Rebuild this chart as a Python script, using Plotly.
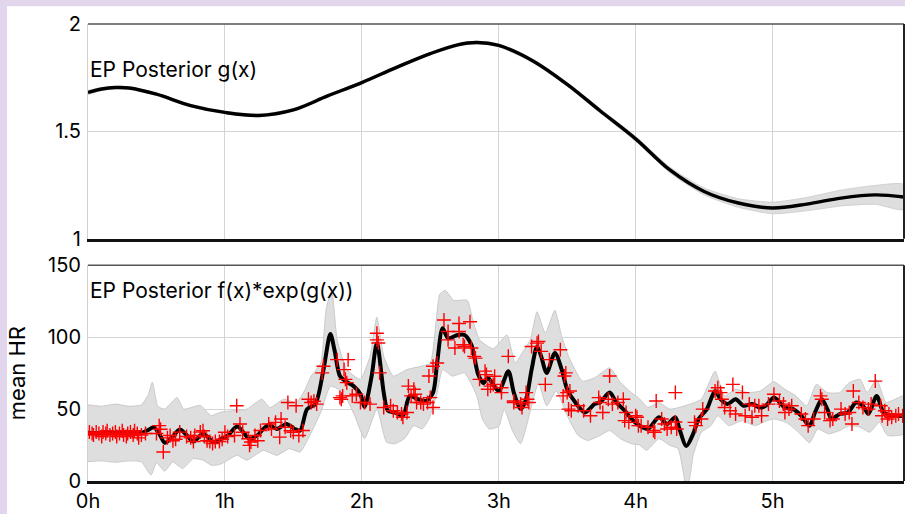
import plotly.graph_objects as go
from plotly.subplots import make_subplots

# ---- g(x): posterior mean and band (hours, value) ----
g_hours = [0.0, 0.1, 0.2, 0.3, 0.5, 0.75, 1.0, 1.25, 1.5, 1.75, 2.0, 2.25, 2.5, 2.7,
           2.84, 3.0, 3.25, 3.5, 3.74, 4.0, 4.25, 4.5, 4.75, 5.0, 5.25, 5.5, 5.75, 5.96]
g_mean = [1.681, 1.697, 1.704, 1.702, 1.673, 1.62, 1.588, 1.574, 1.60, 1.665, 1.727,
          1.797, 1.862, 1.903, 1.914, 1.90, 1.828, 1.719, 1.596, 1.465, 1.32, 1.22,
          1.166, 1.143, 1.161, 1.189, 1.204, 1.194]
g_upper = [1.691, 1.704, 1.710, 1.708, 1.679, 1.626, 1.594, 1.580, 1.606, 1.671, 1.733,
           1.803, 1.868, 1.909, 1.920, 1.907, 1.836, 1.728, 1.606, 1.476, 1.333, 1.236,
           1.186, 1.170, 1.192, 1.226, 1.248, 1.252]
g_lower = [1.671, 1.690, 1.698, 1.696, 1.667, 1.614, 1.582, 1.568, 1.594, 1.659, 1.721,
           1.791, 1.856, 1.897, 1.908, 1.893, 1.820, 1.710, 1.586, 1.454, 1.307, 1.204,
           1.146, 1.116, 1.130, 1.152, 1.160, 1.136]

# ---- f(x)*exp(g(x)): posterior mean ----
f_hours = [0.00, 0.10, 0.20, 0.30, 0.39, 0.44, 0.48, 0.52, 0.56, 0.61, 0.67, 0.72, 0.77,
           0.84, 0.92, 0.97, 1.02, 1.09, 1.18, 1.24, 1.28, 1.32, 1.38, 1.45, 1.51, 1.55,
           1.60, 1.66, 1.72, 1.77, 1.80, 1.84, 1.88, 1.94, 1.99, 2.02, 2.07, 2.11, 2.16,
           2.19, 2.24, 2.30, 2.35, 2.41, 2.47, 2.52, 2.55, 2.59, 2.63, 2.70, 2.75, 2.80,
           2.85, 2.89, 2.92, 3.00, 3.07, 3.11, 3.16, 3.20, 3.24, 3.28, 3.31, 3.35, 3.41,
           3.46, 3.50, 3.56, 3.63, 3.70, 3.74, 3.81, 3.86, 3.92, 3.97, 4.03, 4.09, 4.17,
           4.23, 4.29, 4.32, 4.37, 4.42, 4.46, 4.52, 4.58, 4.62, 4.67, 4.73, 4.79, 4.85,
           4.91, 4.95, 5.01, 5.09, 5.15, 5.21, 5.27, 5.31, 5.36, 5.40, 5.43, 5.49, 5.55,
           5.61, 5.66, 5.70, 5.76, 5.81, 5.86, 5.96]
f_mean = [33.5, 33.3, 33.5, 33.2, 33.5, 35.5, 37.4, 33.0, 26.6, 30.0, 35.8, 32.0, 27.5,
          32.8, 27.0, 29.0, 31.5, 37.9, 29.4, 32.0, 36.2, 39.0, 36.2, 39.7, 36.2, 35.1,
          50.0, 53.5, 77.5, 102.3, 91.3, 73.0, 69.5, 66.0, 60.3, 51.5, 72.0, 95.9, 61.5,
          48.9, 47.7, 45.4, 59.2, 56.9, 55.8, 61.5, 82.1, 106.2, 99.3, 101.6, 101.6, 94.8,
          74.1, 68.0, 71.8, 62.6, 76.4, 61.5, 50.0, 56.9, 77.5, 93.6, 86.7, 75.2, 89.0,
          77.5, 63.8, 54.6, 47.7, 53.5, 54.6, 61.5, 54.6, 48.9, 43.1, 38.5, 36.2, 44.3,
          39.7, 44.3, 36.2, 24.3, 32.8, 43.1, 50.0, 62.6, 56.9, 53.5, 56.9, 52.3, 53.5,
          51.1, 52.3, 58.0, 51.1, 50.0, 45.4, 38.5, 47.7, 56.9, 50.0, 43.1, 46.6, 47.7,
          54.6, 52.3, 46.6, 59.2, 47.7, 45.4, 45.4]

# ---- f(x)*exp(g(x)): band edges ----
up_hours = [0.00, 0.10, 0.20, 0.30, 0.39, 0.44, 0.47, 0.51, 0.56, 0.65, 0.70, 0.82, 0.90,
            0.96, 1.06, 1.16, 1.27, 1.33, 1.43, 1.52, 1.58, 1.63, 1.70, 1.74, 1.78, 1.82,
            1.89, 1.99, 2.06, 2.11, 2.16, 2.23, 2.33, 2.43, 2.50, 2.57, 2.61, 2.67, 2.77,
            2.81, 2.86, 2.96, 3.06, 3.12, 3.17, 3.23, 3.28, 3.34, 3.41, 3.46, 3.51, 3.61,
            3.70, 3.81, 3.89, 3.97, 4.03, 4.09, 4.17, 4.25, 4.36, 4.48, 4.58, 4.65, 4.73,
            4.82, 4.91, 5.01, 5.09, 5.17, 5.25, 5.32, 5.40, 5.49, 5.56, 5.64, 5.69, 5.76,
            5.83, 5.96]
up_vals = [53.0, 52.0, 53.5, 52.0, 53.0, 60.0, 68.8, 52.0, 50.0, 58.0, 50.0, 52.6, 45.4,
           47.7, 48.9, 50.0, 56.9, 51.1, 56.9, 54.6, 62.6, 73.0, 82.0, 120.0, 132.6, 98.0,
           77.5, 70.7, 86.7, 114.0, 86.7, 73.0, 77.5, 79.8, 82.0, 130.0, 132.6, 125.7,
           125.7, 112.0, 98.2, 92.0, 101.6, 82.1, 89.0, 98.2, 117.7, 102.8, 118.8, 100.5,
           86.7, 69.5, 71.8, 78.7, 68.4, 61.5, 57.0, 51.1, 54.6, 50.0, 52.3, 56.9, 76.4,
           59.2, 63.8, 61.5, 62.6, 69.0, 63.8, 59.2, 52.3, 67.2, 61.5, 61.5, 68.4, 70.7,
           61.5, 70.7, 54.6, 59.2]
lo_hours = [0.00, 0.10, 0.20, 0.30, 0.39, 0.46, 0.50, 0.56, 0.62, 0.69, 0.77, 0.84, 0.90,
            0.96, 1.00, 1.09, 1.16, 1.28, 1.38, 1.47, 1.55, 1.62, 1.70, 1.77, 1.83, 1.89,
            1.95, 2.02, 2.11, 2.18, 2.24, 2.31, 2.38, 2.44, 2.49, 2.55, 2.59, 2.66, 2.75,
            2.84, 2.88, 2.93, 3.00, 3.04, 3.10, 3.16, 3.24, 3.29, 3.35, 3.42, 3.50, 3.58,
            3.65, 3.74, 3.81, 3.89, 3.97, 4.03, 4.08, 4.17, 4.25, 4.31, 4.35, 4.37, 4.40,
            4.42, 4.48, 4.55, 4.60, 4.68, 4.78, 4.87, 4.96, 5.01, 5.10, 5.19, 5.27, 5.33,
            5.41, 5.49, 5.56, 5.64, 5.71, 5.78, 5.84, 5.96]
lo_vals = [13.5, 14.0, 13.0, 14.0, 13.3, 4.1, 12.6, 6.9, 13.3, 8.7, 15.6, 14.5, 11.0, 11.5,
           13.3, 17.9, 14.5, 21.3, 17.9, 22.5, 20.2, 31.7, 47.7, 66.0, 63.8, 56.9, 45.0,
           29.4, 50.0, 27.1, 25.9, 29.4, 38.5, 36.2, 43.1, 61.5, 77.5, 73.0, 75.2, 59.2,
           43.1, 36.2, 38.0, 50.0, 35.0, 25.9, 52.3, 68.4, 52.3, 62.6, 45.4, 31.7, 28.2,
           31.7, 35.1, 29.4, 25.9, 25.0, 21.3, 29.4, 24.8, 22.5, 5.0, -8.0, 5.0, 17.9,
           33.9, 38.5, 45.4, 38.5, 42.0, 38.5, 42.0, 43.1, 40.8, 33.9, 26.6, 36.2, 32.8,
           35.1, 38.5, 37.4, 33.9, 40.8, 31.7, 32.8]

# ---- observed mean heart rate ----
obs_hours = [0.01, 0.03, 0.04, 0.06, 0.08, 0.10, 0.11, 0.13, 0.14, 0.16, 0.18, 0.20, 0.21,
             0.23, 0.25, 0.26, 0.28, 0.29, 0.31, 0.33, 0.34, 0.36, 0.37, 0.39, 0.42, 0.50,
             0.52, 0.53, 0.55, 0.58, 0.60, 0.62, 0.64, 0.67, 0.72, 0.75, 0.77, 0.78, 0.82,
             0.84, 0.85, 0.87, 0.89, 0.91, 0.93, 0.96, 0.98,
             1.00, 1.02, 1.07, 1.086, 1.11, 1.13, 1.17, 1.18, 1.19, 1.22, 1.24, 1.26, 1.32,
             1.34, 1.37, 1.40, 1.41, 1.44, 1.46, 1.48, 1.50, 1.52, 1.54, 1.57, 1.61, 1.63,
             1.65, 1.67, 1.71, 1.72, 1.82, 1.84, 1.85, 1.86, 1.87, 1.88, 1.89, 1.90, 1.93,
             1.96, 1.99, 2.02,
             2.06, 2.11, 2.11, 2.12, 2.13, 2.16, 2.21, 2.23, 2.26, 2.29, 2.30, 2.33, 2.34,
             2.36, 2.38, 2.39, 2.40, 2.43, 2.45, 2.48, 2.49, 2.50, 2.52, 2.52, 2.55, 2.60,
             2.63, 2.63, 2.68, 2.71, 2.71, 2.74, 2.75, 2.79, 2.80, 2.82, 2.83, 2.86, 2.90,
             2.91, 2.92, 2.94, 2.96, 2.97,
             3.02, 3.02, 3.07, 3.11, 3.11, 3.16, 3.17, 3.20, 3.21, 3.22, 3.24, 3.28, 3.29,
             3.31, 3.34, 3.37, 3.45, 3.47, 3.48, 3.49, 3.50, 3.51, 3.52, 3.53, 3.58, 3.62,
             3.67, 3.73, 3.74, 3.76, 3.80, 3.81, 3.83, 3.87, 3.91, 3.92, 3.93, 3.95, 4.00,
             4.02,
             4.01, 4.04, 4.09, 4.13, 4.14, 4.15, 4.19, 4.21, 4.23, 4.26, 4.29, 4.29, 4.30,
             4.43, 4.44, 4.48, 4.49, 4.58, 4.60, 4.62, 4.63, 4.65, 4.69, 4.71, 4.73, 4.78,
             4.80, 4.83, 4.85, 4.87, 4.90, 4.92, 4.97,
             5.01, 5.05, 5.08, 5.09, 5.12, 5.14, 5.21, 5.24, 5.26, 5.30, 5.35, 5.36, 5.38,
             5.42, 5.44, 5.50, 5.53, 5.56, 5.58, 5.59, 5.63, 5.66, 5.70, 5.72, 5.75, 5.79,
             5.80, 5.82, 5.84, 5.85, 5.87, 5.90, 5.92, 5.95]
obs_hr = [34, 33, 32, 34, 33, 31, 34, 33, 35, 32, 33, 34, 31,
          33, 35, 32, 31, 33, 34, 32, 35, 33, 30, 32, 33, 33,
          38.5, 36, 20.2, 30, 31.7, 28, 29, 34, 31, 30, 27.5, 31.6, 34,
          35, 31, 28, 27.5, 26, 27.5, 27.5, 29,
          33.9, 31, 31.6, 52.3, 39.7, 33.9, 29.4, 24.8, 27.1, 31.7, 28, 35.1, 39.7,
          36.2, 40.8, 30.5, 43.1, 37.4, 54.6, 35, 33.9, 52.3, 31.7, 35.1, 56.9, 54.6,
          55.5, 53.5, 75.2, 79.8, 84.4, 58, 56.9, 59.2, 77.5, 70.7, 68.4, 84.4, 59.2,
          60.3, 54.6, 54.6,
          53.5, 102.8, 98.2, 96, 75.2, 51.1, 52.3, 48.9, 47.7, 46.6, 44.3, 47.7, 66,
          59.2, 63.8, 60.3, 54.6, 54.6, 53.5, 54.6, 73, 58, 51.1, 79.8, 82.1, 112,
          98.2, 104, 92.5, 109.6, 104, 94.8, 93.6, 110.8, 92.5, 86.7, 85.5, 70.7, 76.4,
          74, 63.8, 66, 67.2, 72.9,
          64.9, 61.5, 86.7, 55.7, 54.6, 53.5, 51.1, 61.5, 56.9, 54.6, 93.6, 95.9, 97,
          90.2, 67.2, 84.4, 91.3, 59.2, 73, 75.2, 61.5, 50, 62.6, 48.9, 52.3, 48.9,
          45.4, 58, 54.6, 47.7, 56.9, 73, 53.5, 54.6, 56.9, 42, 47.7, 40.8, 45.4,
          38.5,
          44.3, 38.5, 37.4, 35.1, 33.9, 55.7, 43.1, 39.7, 36.2, 37.4, 61.5, 41, 36.2,
          40.8, 38.5, 43.1, 50, 62.6, 64.9, 61.5, 56.9, 51.1, 48.9, 67.2, 46.6, 61.5,
          45.4, 53.5, 44.3, 52.3, 52.3, 45.4, 53.5,
          60.3, 55.7, 53.5, 47.7, 50, 52.3, 46.6, 43.1, 38.5, 43.1, 59.2, 56.9, 47.7,
          42, 43.1, 50, 46.6, 47.7, 39.7, 62.6, 54.6, 51.1, 50, 53.5, 69.5, 52.3,
          45.4, 48.9, 43.1, 46.6, 44.3, 45.4, 46.6, 45.4]

hour_ticks = [0, 1, 2, 3, 4, 5]
hour_labels = ["0h", "1h", "2h", "3h", "4h", "5h"]

FONT = "Inter, Liberation Sans, Arial, sans-serif"
BAND_FILL = "#dedede"
BAND_EDGE = "#c9c9c9"

fig = make_subplots(rows=2, cols=1, shared_xaxes=False, vertical_spacing=0.0)

# top panel: g(x)
fig.add_trace(go.Scatter(
    x=g_hours + g_hours[::-1], y=g_upper + g_lower[::-1],
    fill="toself", fillcolor=BAND_FILL, mode="lines",
    line=dict(color=BAND_EDGE, width=0.8, shape="spline", smoothing=0.6),
    hoverinfo="skip", showlegend=False), row=1, col=1)
fig.add_trace(go.Scatter(
    x=g_hours, y=g_mean, mode="lines",
    line=dict(color="black", width=3.4, shape="spline", smoothing=1.0),
    showlegend=False), row=1, col=1)

# bottom panel: f(x)*exp(g(x))
fig.add_trace(go.Scatter(
    x=up_hours + lo_hours[::-1], y=up_vals + lo_vals[::-1],
    fill="toself", fillcolor=BAND_FILL, mode="lines",
    line=dict(color=BAND_EDGE, width=1, shape="spline", smoothing=0.5),
    hoverinfo="skip", showlegend=False), row=2, col=1)
fig.add_trace(go.Scatter(
    x=f_hours, y=f_mean, mode="lines",
    line=dict(color="black", width=4, shape="spline", smoothing=0.8),
    showlegend=False), row=2, col=1)
fig.add_trace(go.Scatter(
    x=obs_hours, y=obs_hr, mode="markers",
    marker=dict(symbol="cross-thin", size=10, line=dict(color="#ff0000", width=1.4)),
    showlegend=False), row=2, col=1)

W, H = 905, 514
L, R, T, B = 88, 1, 24, 28
ph = H - T - B
top_dom = [(486 - 241) / ph, 1.0]
bot_dom = [0.0, (486 - 268) / ph]

axis_common = dict(
    range=[0, 5.96], tickvals=hour_ticks, ticktext=hour_labels,
    showgrid=True, gridcolor="#d4d4d4", gridwidth=1,
    showline=True, linecolor="#111111", linewidth=2.5, ticks="",
    zeroline=False, tickfont=dict(family=FONT, size=20, color="black"),
)
fig.update_xaxes(**axis_common)
fig.update_xaxes(showticklabels=False, row=1, col=1)
fig.update_xaxes(ticklabelstandoff=0, row=2, col=1)

yax_common = dict(
    showgrid=True, gridcolor="#d4d4d4", gridwidth=1,
    showline=True, linecolor="#d0d0d0", linewidth=1, ticks="",
    zeroline=False, tickfont=dict(family=FONT, size=20, color="black"),
    ticklabelstandoff=2,
)
fig.update_yaxes(range=[1, 2], tickvals=[1, 1.5, 2], ticktext=["1", "1.5", "2"],
                 domain=top_dom, **yax_common, row=1, col=1)
fig.update_yaxes(range=[0, 150], tickvals=[0, 50, 100, 150],
                 domain=bot_dom, **yax_common, row=2, col=1,
                 title=dict(text="mean HR", font=dict(family=FONT, size=22, color="black"),
                            standoff=15))

shapes = [
    # white page behind the panels
    dict(type="rect", xref="paper", yref="paper", layer="below",
         x0=(7 - L) / (W - L - R), x1=1.05, y0=-0.2, y1=(486 - 6) / ph,
         fillcolor="white", line=dict(width=0)),
]
for xr, yr in (("x domain", "y domain"), ("x2 domain", "y2 domain")):
    shapes.append(dict(type="line", xref=xr, yref=yr, x0=0, x1=1, y0=1, y1=1,
                       line=dict(color="#555555", width=1.5), layer="above"))
    shapes.append(dict(type="line", xref=xr, yref=yr, x0=1, x1=1, y0=0, y1=1,
                       line=dict(color="#222222", width=2), layer="above"))

annotations = [
    dict(text="EP Posterior g(x)", xref="x domain", yref="y domain",
         x=0.0, y=(241 - 70) / 217, xanchor="left", yanchor="middle",
         showarrow=False, font=dict(family=FONT, size=21, color="black")),
    dict(text="EP Posterior f(x)*exp(g(x))", xref="x2 domain", yref="y2 domain",
         x=0.0, y=(486 - 293) / 218, xanchor="left", yanchor="middle",
         showarrow=False, font=dict(family=FONT, size=21, color="black")),
]

fig.update_layout(
    width=W, height=H,
    margin=dict(l=L, r=R, t=T, b=B),
    paper_bgcolor="#e1d6ec", plot_bgcolor="white",
    shapes=shapes, annotations=annotations,
    showlegend=False,
)

fig.write_html("out.html")
